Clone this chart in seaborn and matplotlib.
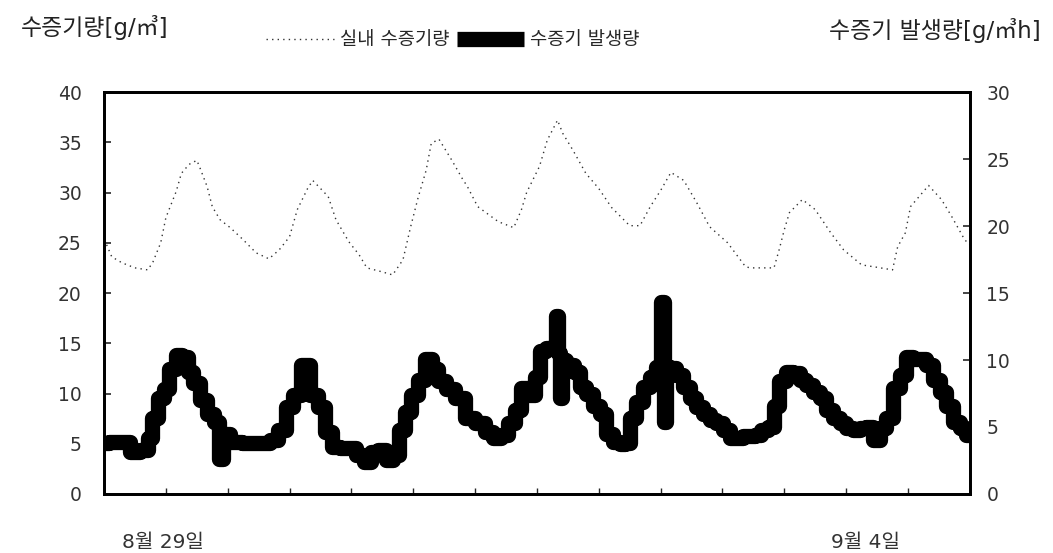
import matplotlib
matplotlib.use("Agg")
import matplotlib.pyplot as plt
import pandas as pd
import seaborn as sns

# 실내 수증기량 (left axis, g/m3) - hours from start of record
vapor_hours = [0.5, 1.5, 3.5, 6.0, 8.5, 9.5, 11, 12, 14, 15, 16.5, 18, 18.5, 20, 21, 22.5,
               24.5, 27, 29.5, 32, 34, 36, 37.5, 39.5, 40.5, 43.5, 45, 47.5, 49.5, 51, 54,
               56, 58, 59.5, 61, 62.5, 63.5, 65, 67.5, 69.5, 70.5, 72.5, 76.5, 79.5, 81, 82,
               84.5, 86, 88, 89, 91, 93.5, 96, 98.5, 102, 104, 106, 108, 110, 112.5, 115,
               117.5, 121, 124.5, 125.5, 130, 131, 132, 133, 135.5, 138, 141, 143.5, 147,
               149.5, 153, 154, 155.5, 156.5, 160, 162.5, 164.5, 167, 168]
vapor_values = [24.8, 23.6, 23.0, 22.5, 22.3, 23.1, 25.0, 27.5, 30.1, 31.9, 32.8, 33.2, 32.6,
                30.6, 28.6, 27.3, 26.5, 25.3, 24.0, 23.4, 24.3, 25.6, 28.3, 30.4, 31.2, 29.6,
                27.3, 25.1, 23.8, 22.5, 22.1, 21.8, 23.3, 26.6, 29.6, 32.2, 34.9, 35.3, 33.2,
                31.4, 30.6, 28.6, 27.1, 26.5, 28.3, 30.0, 32.6, 35.2, 37.2, 35.9, 34.2, 31.9,
                30.4, 28.5, 26.7, 26.7, 28.6, 30.2, 32.0, 31.2, 29.0, 26.6, 25.0, 22.6, 22.5,
                22.5, 24.3, 26.3, 28.0, 29.3, 28.3, 26.0, 24.3, 22.8, 22.6, 22.3, 24.6, 26.0,
                28.6, 30.7, 29.3, 27.6, 25.3, 24.8]

# 수증기 발생량 (right axis, g/m3h)
gen_hours = [0, 2.1, 4.1, 6.0, 8.0, 8.9, 9.9, 10.9, 12.2, 13.2, 14.7, 15.7, 16.7, 18.0, 19.2,
             20.6, 21.9, 22.7, 23.5, 25.4, 28.3, 31.2, 33.2, 34.5, 36.1, 37.4, 39.0, 40.9,
             42.3, 43.5, 44.8, 46.8, 48.1, 49.7, 51.0, 52.6, 53.9, 55.5, 56.8, 57.8, 59.0,
             60.3, 61.7, 62.9, 64.2, 65.6, 67.1, 69.1, 71.0, 72.9, 74.9, 76.2, 77.8, 79.1,
             80.3, 81.7, 83.2, 84.0, 85.2, 86.5, 87.5, 87.9, 88.3, 88.6, 89.0, 90.4, 91.8,
             92.9, 94.3, 95.6, 96.8, 98.2, 99.5, 100.7, 101.6, 102.6, 104.0, 105.3, 106.5,
             107.9, 108.4, 108.8, 109.2, 110.4, 111.7, 113.1, 114.3, 115.6, 117.0, 118.1,
             119.5, 120.9, 122.0, 123.4, 124.7, 125.7, 126.9, 128.2, 129.6, 130.6, 131.5,
             133.1, 134.4, 135.6, 137.0, 138.3, 139.5, 140.8, 142.2, 143.4, 144.7, 146.1,
             147.2, 148.6, 149.9, 151.1, 152.5, 153.8, 155.0, 156.4, 157.7, 158.9, 160.2,
             161.6, 162.8, 164.1, 165.5, 166.6, 168.0]
gen_values = [3.8, 3.9, 3.9, 3.1, 3.3, 4.2, 5.7, 7.2, 7.8, 9.3, 10.4, 10.2, 9.1, 8.3, 7.0,
              6.0, 5.4, 2.6, 4.5, 3.9, 3.8, 3.8, 4.0, 4.8, 6.5, 7.4, 9.6, 7.4,
              6.5, 4.6, 3.5, 3.4, 3.4, 2.9, 2.4, 3.1, 3.3, 2.5, 2.9, 4.8, 6.1,
              7.4, 8.5, 10.1, 9.3, 8.4, 7.8, 7.2, 5.7, 5.3, 4.6, 4.2, 4.4, 5.3,
              6.3, 7.9, 7.4, 8.7, 10.7, 10.9, 11.0, 13.3, 10.5, 7.2, 10.0, 9.6, 9.1,
              8.0, 7.5, 6.6, 6.0, 4.5, 3.9, 3.7, 3.8, 5.7, 6.9, 8.0, 8.7,
              9.5, 14.3, 5.4, 9.5, 9.4, 8.9, 8.0, 7.2, 6.5, 6.0, 5.5,
              5.3, 4.8, 4.2, 4.2, 4.3, 4.3, 4.4, 4.8, 5.0, 6.6, 8.4,
              9.1, 9.0, 8.5, 8.1, 7.6, 7.2, 6.3, 5.7, 5.3, 4.9, 4.8,
              4.9, 5.0, 4.0, 4.9, 5.7, 7.9, 8.9, 10.2, 10.1, 10.1, 9.6,
              8.5, 7.6, 6.6, 5.4, 4.9, 4.4]

left_ticks = [0, 5, 10, 15, 20, 25, 30, 35, 40]
right_ticks = [0, 5, 10, 15, 20, 25, 30]
date_labels = ["8월 29일", "9월 4일"]
date_label_hours = [11.4, 147.8]

vapor = pd.DataFrame({"hour": vapor_hours, "value": vapor_values})
gen = pd.DataFrame({"hour": gen_hours, "value": gen_values})

sns.set_style("white")
plt.rcParams["font.family"] = ["DejaVu Sans", "Noto Sans CJK KR"]

fig = plt.figure(figsize=(10.53, 5.53), dpi=100, facecolor="white")
ax = fig.add_axes([0.0988, 0.1067, 0.8222, 0.7269])
ax2 = ax.twinx()

sns.lineplot(data=vapor, x="hour", y="value", ax=ax, color="#333333", linewidth=1.0,
             linestyle=(0, (1, 3)), label="실내 수증기량", legend=False)
sns.lineplot(data=gen, x="hour", y="value", ax=ax2, color="black", linewidth=11,
             drawstyle="steps-mid", solid_joinstyle="round", solid_capstyle="butt",
             label="수증기 발생량", legend=False)

ax.set_xlim(0, 168)
ax.set_ylim(0, 40)
ax2.set_ylim(0, 30)
ax.set_yticks(left_ticks)
ax2.set_yticks(right_ticks)
ax.set_xticks(range(12, 168, 12))
ax.set_xticklabels([])
ax.set_xlabel("")
ax.set_ylabel("")
ax2.set_ylabel("")

ax.tick_params(axis="y", direction="in", length=5, width=1.2, labelsize=13.5,
               labelcolor="#333333", pad=16)
ax2.tick_params(axis="y", direction="in", length=5, width=1.2, labelsize=13.5,
                labelcolor="#333333", pad=12)
ax.tick_params(axis="x", direction="in", length=4, width=1.0, bottom=True)
for a in (ax, ax2):
    for s in a.spines.values():
        s.set_visible(True)
        s.set_color("black")
        s.set_linewidth(2)

for lab, h in zip(date_labels, date_label_hours):
    ax.text(h, -0.12, lab, transform=ax.get_xaxis_transform(), ha="center", va="center",
            fontsize=14.5, color="#333333")

fig.text(0.020, 0.950, "수증기량[g/㎥]", fontsize=16.5, ha="left", va="center", color="#222222")
fig.text(0.988, 0.945, "수증기 발생량[g/㎥h]", fontsize=16.5, ha="right", va="center", color="#222222")

h1, l1 = ax.get_legend_handles_labels()
h2, l2 = ax2.get_legend_handles_labels()
fig.legend(h1 + h2, l1 + l2, loc="center", bbox_to_anchor=(0.43, 0.928), ncol=2,
           frameon=False, fontsize=13.5, handlelength=3.6, handletextpad=0.3,
           columnspacing=0.4)

fig.savefig("out.png", dpi=100, facecolor="white")
